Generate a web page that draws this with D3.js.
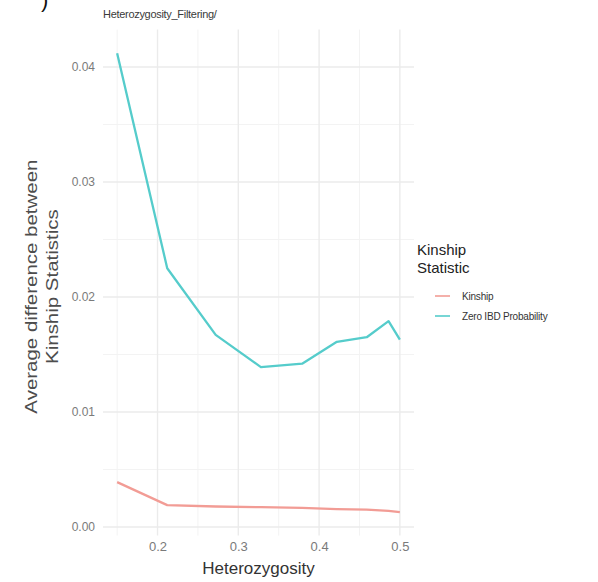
<!DOCTYPE html>
<html>
<head>
<meta charset="utf-8">
<script src="https://cdn.jsdelivr.net/npm/d3@7"></script>
<style>
  html, body { margin: 0; padding: 0; background: #fff; }
  svg { display: block; font-family: "Liberation Sans", Arial, sans-serif; }
</style>
</head>
<body>
<svg id="chart" width="598" height="582"></svg>
<script>
// Heterozygosity filter thresholds (x) and average differences per statistic
const heterozygosity = [0.15, 0.212, 0.272, 0.328, 0.379, 0.422, 0.459, 0.486, 0.5];
const kinshipDiff    = [0.0039, 0.0019, 0.00178, 0.00172, 0.00166, 0.00155, 0.0015, 0.0014, 0.0013];
const zeroIbdDiff    = [0.0412, 0.0225, 0.0167, 0.0139, 0.0142, 0.0161, 0.0165, 0.0179, 0.0163];
const seriesNames    = ["Kinship", "Zero IBD Probability"];
const seriesColors   = ["#f29c95", "#55cccb"];
const xTicks = [0.2, 0.3, 0.4, 0.5];
const yTicks = [0.00, 0.01, 0.02, 0.03, 0.04];
const xMinor = [0.15, 0.25, 0.35, 0.45];
const yMinor = [0.005, 0.015, 0.025, 0.035];

const svg = d3.select("#chart");
const panel = { left: 103, right: 414, top: 29.6, bottom: 535.6 };

const x = d3.scaleLinear()
  .domain([0.1325, 0.5175])
  .range([panel.left, panel.right]);
const y = d3.scaleLinear()
  .domain([-0.00075, 0.04325])
  .range([panel.bottom, panel.top]);

// cropped panel tag in the corner
svg.append("text")
  .attr("x", 41).attr("y", 7)
  .attr("font-size", 22).attr("fill", "#111")
  .text(")");

// plot title
svg.append("text")
  .attr("x", 103).attr("y", 18)
  .attr("font-size", 11).attr("fill", "#3a3a3a")
  .attr("letter-spacing", -0.3)
  .text("Heterozygosity_Filtering/");

// grid
const grid = svg.append("g");
grid.selectAll("line.vminor").data(xMinor).join("line")
  .attr("x1", d => x(d)).attr("x2", d => x(d))
  .attr("y1", panel.top).attr("y2", panel.bottom)
  .attr("stroke", "#f3f3f3").attr("stroke-width", 1);
grid.selectAll("line.hminor").data(yMinor).join("line")
  .attr("y1", d => y(d)).attr("y2", d => y(d))
  .attr("x1", panel.left).attr("x2", panel.right)
  .attr("stroke", "#f3f3f3").attr("stroke-width", 1);
grid.selectAll("line.vmajor").data(xTicks).join("line")
  .attr("x1", d => x(d)).attr("x2", d => x(d))
  .attr("y1", panel.top).attr("y2", panel.bottom)
  .attr("stroke", "#ebebeb").attr("stroke-width", 1.4);
grid.selectAll("line.hmajor").data(yTicks).join("line")
  .attr("y1", d => y(d)).attr("y2", d => y(d))
  .attr("x1", panel.left).attr("x2", panel.right)
  .attr("stroke", "#ebebeb").attr("stroke-width", 1.4);

// axes (labels only, minimal theme)
const xAxis = svg.append("g")
  .attr("transform", `translate(0,${panel.bottom})`)
  .call(d3.axisBottom(x).tickValues(xTicks).tickFormat(d3.format(".1f")).tickSize(0).tickPadding(6));
xAxis.select(".domain").remove();
xAxis.selectAll("text").attr("font-size", 13).attr("fill", "#7a7a7a")
  .attr("font-family", "Liberation Sans, Arial, sans-serif");

const yAxis = svg.append("g")
  .attr("transform", `translate(${panel.left},0)`)
  .call(d3.axisLeft(y).tickValues(yTicks).tickFormat(d3.format(".2f")).tickSize(0).tickPadding(8));
yAxis.select(".domain").remove();
yAxis.selectAll("text").attr("font-size", 12).attr("fill", "#7a7a7a")
  .attr("font-family", "Liberation Sans, Arial, sans-serif");

// axis titles
svg.append("text")
  .attr("x", x(0.325)).attr("y", 574)
  .attr("text-anchor", "middle")
  .attr("font-size", 17).attr("fill", "#333")
  .text("Heterozygosity");

// rotated y title, stretched along its baseline
const yTitle = svg.append("text")
  .attr("transform", `translate(0,${(panel.top + panel.bottom) / 2 + 4}) rotate(-90) scale(1.28,1)`)
  .attr("text-anchor", "middle")
  .attr("font-size", 16).attr("fill", "#4d4d4d");
yTitle.append("tspan").attr("x", 0).attr("y", 37).text("Average difference between");
yTitle.append("tspan").attr("x", 0).attr("y", 58).text("Kinship Statistics");

// series lines
const series = [kinshipDiff, zeroIbdDiff];
const line = d3.line()
  .x((d, i) => x(heterozygosity[i]))
  .y(d => y(d));
svg.append("g").selectAll("path").data(series).join("path")
  .attr("d", d => line(d))
  .attr("fill", "none")
  .attr("stroke", (d, i) => seriesColors[i])
  .attr("stroke-width", 2.3)
  .attr("stroke-linejoin", "round");

// legend
const legend = svg.append("g");
legend.append("text")
  .attr("x", 417).attr("y", 255)
  .attr("font-size", 15).attr("fill", "#222")
  .text("Kinship");
legend.append("text")
  .attr("x", 417).attr("y", 273)
  .attr("font-size", 15).attr("fill", "#222")
  .text("Statistic");
const items = legend.selectAll("g.item").data(seriesNames).join("g")
  .attr("transform", (d, i) => `translate(0,${296 + i * 20})`);
items.append("line")
  .attr("x1", 435).attr("x2", 450)
  .attr("stroke", (d, i) => seriesColors[i])
  .attr("stroke-width", 1.6);
items.append("text")
  .attr("x", 462).attr("y", 3.5)
  .attr("font-size", 10).attr("fill", "#333")
  .attr("letter-spacing", -0.2)
  .text(d => d);
</script>
</body>
</html>
